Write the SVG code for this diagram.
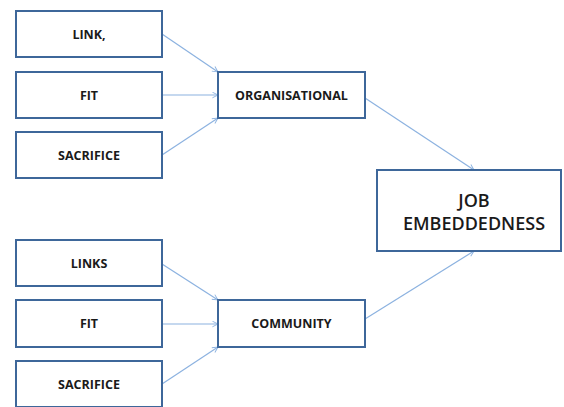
<svg xmlns="http://www.w3.org/2000/svg" width="564" height="407" viewBox="0 0 564 407">
  <style>
    .box { fill: #ffffff; stroke: #3e679a; stroke-width: 2; }
    .lbl { font-family: "Open Sans", "Liberation Sans", sans-serif; font-weight: 700; font-size: 12.5px; fill: #1a1a1a; text-anchor: middle; }
    .big { font-size: 18px; font-weight: 600; }
    .edge { stroke: #8cb2e0; stroke-width: 1.2; fill: none; marker-end: url(#arr); }
  </style>
  <defs>
    <marker id="arr" viewBox="0 0 10 10" refX="9" refY="5" markerWidth="7" markerHeight="7" orient="auto" markerUnits="userSpaceOnUse">
      <path d="M1,1 L9,5 L1,9" fill="none" stroke="#8cb2e0" stroke-width="1.3"/>
    </marker>
  </defs>
  <rect width="564" height="407" fill="#ffffff"/>

  <g id="connectors">
    <line class="edge" x1="162" y1="34" x2="218" y2="72"/>
    <line class="edge" x1="162" y1="95" x2="218" y2="95"/>
    <line class="edge" x1="162" y1="155" x2="218" y2="118"/>
    <line class="edge" x1="365" y1="98" x2="474" y2="170"/>
    <line class="edge" x1="162" y1="264" x2="218" y2="300"/>
    <line class="edge" x1="162" y1="324" x2="218" y2="324"/>
    <line class="edge" x1="162" y1="384" x2="218" y2="347"/>
    <line class="edge" x1="365" y1="319" x2="474" y2="251"/>
  </g>

  <g id="link-top">
    <rect class="box" x="16" y="11" width="146" height="46"/>
    <text class="lbl" x="89" y="39">LINK,</text>
  </g>
  <g id="fit-top">
    <rect class="box" x="16" y="72" width="146" height="46"/>
    <text class="lbl" x="89" y="100">FIT</text>
  </g>
  <g id="sacrifice-top">
    <rect class="box" x="16" y="132" width="146" height="46"/>
    <text class="lbl" x="89" y="160">SACRIFICE</text>
  </g>
  <g id="organisational">
    <rect class="box" x="218" y="72" width="147" height="46"/>
    <text class="lbl" x="291.5" y="100">ORGANISATIONAL</text>
  </g>
  <g id="job-embeddedness">
    <rect class="box" x="377" y="170" width="184" height="81"/>
    <text class="lbl big" x="474" y="207">JOB</text>
    <text class="lbl big" x="474" y="230">EMBEDDEDNESS</text>
  </g>
  <g id="links-bottom">
    <rect class="box" x="16" y="240" width="146" height="46"/>
    <text class="lbl" x="89" y="268">LINKS</text>
  </g>
  <g id="fit-bottom">
    <rect class="box" x="16" y="300" width="146" height="47"/>
    <text class="lbl" x="89" y="328">FIT</text>
  </g>
  <g id="sacrifice-bottom">
    <rect class="box" x="16" y="361" width="146" height="46"/>
    <text class="lbl" x="89" y="389">SACRIFICE</text>
  </g>
  <g id="community">
    <rect class="box" x="218" y="300" width="147" height="47"/>
    <text class="lbl" x="291.5" y="328">COMMUNITY</text>
  </g>
</svg>
